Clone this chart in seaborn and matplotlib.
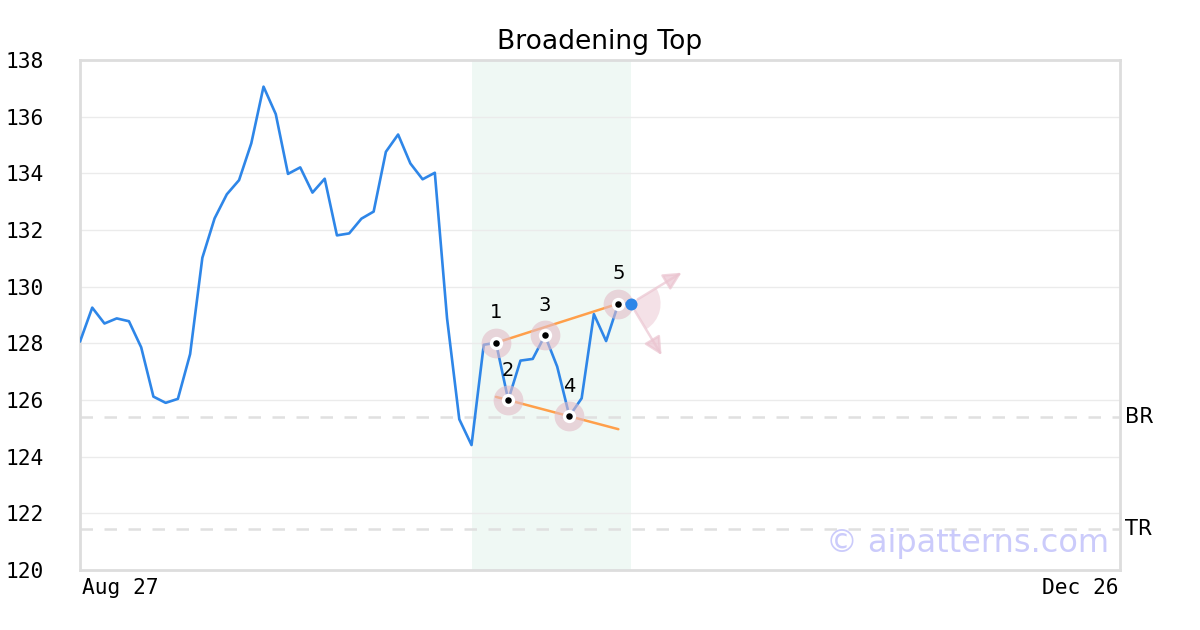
import matplotlib
matplotlib.use("Agg")
import matplotlib.pyplot as plt
import matplotlib.transforms as mtransforms
from matplotlib.patches import Wedge
import pandas as pd
import seaborn as sns

# ---------------------------------------------------------
# Data (x = trading-day index)
# ---------------------------------------------------------
price = [128.06, 129.26, 128.70, 128.88, 128.78, 127.86, 126.12, 125.90, 126.04, 127.62,
         131.02, 132.41, 133.26, 133.76, 135.06, 137.06, 136.09, 133.98, 134.21, 133.32,
         133.81, 131.81, 131.88, 132.40, 132.65, 134.76, 135.37, 134.35, 133.79, 134.02,
         128.88, 125.32, 124.41, 127.95, 128.02, 126.00, 127.39, 127.45, 128.28, 127.18,
         125.43, 126.06, 129.03, 128.08, 129.40, 129.40]
n_slots = 86
tick_pos = [0, 85]
tick_labels = ["Aug 27", "Dec 26"]

pivot_idx = [34, 35, 38, 40, 44]
pivot_price = [128.02, 126.00, 128.28, 125.43, 129.40]
pivot_labels = ["1", "2", "3", "4", "5"]

upper_idx = [34, 44]
upper_val = [128.02, 129.40]
lower_idx = [34, 44]
lower_val = [126.11, 124.97]

zone = [32, 45]
levels = {"BR": 125.40, "TR": 121.45}

df = pd.DataFrame({"idx": range(len(price)), "price": price})

# ---------------------------------------------------------
# Plot
# ---------------------------------------------------------
sns.set_theme(style="white")
plt.rcParams["font.family"] = ["DejaVu Sans"]
plt.rcParams["text.color"] = "black"
plt.rcParams["xtick.color"] = "black"
plt.rcParams["ytick.color"] = "black"

fig = plt.figure(figsize=(12, 6.3), dpi=100)
ax = fig.add_axes([80 / 1200, 60 / 630, 1040 / 1200, 510 / 630])

ax.axvspan(zone[0], zone[1], color="#eff8f4", zorder=0, lw=0)
ax.yaxis.grid(True, color="#ebebeb", lw=1, zorder=0.5)

for name, lvl in levels.items():
    ax.axhline(lvl, color="#e0e0e0", lw=1.8, dashes=(5, 4.6), zorder=1)
    ax.text(1.005, lvl, name, transform=ax.get_yaxis_transform(),
            va="center", ha="left", fontsize=15, color="black")

sns.lineplot(data=df, x="idx", y="price", ax=ax, color="#2e86e8", lw=1.9, zorder=3)

ax.plot(upper_idx, upper_val, color="#ff9f4a", lw=1.8, zorder=4)
ax.plot(lower_idx, lower_val, color="#ff9f4a", lw=1.8, zorder=4)

ax.scatter(pivot_idx, pivot_price, s=460, color="#e3bcc7", alpha=0.6, lw=0, zorder=5)
ax.scatter(pivot_idx, pivot_price, s=92, color="white", lw=0, zorder=6)
ax.scatter(pivot_idx, pivot_price, s=22, color="black", lw=0, zorder=7)
for i, p, lab in zip(pivot_idx, pivot_price, pivot_labels):
    ax.annotate(lab, (i, p), xytext=(0, 21.5), textcoords="offset points",
                ha="center", va="center", fontsize=14, color="black", zorder=8)

ax.set_xlim(0, n_slots - 1)
ax.set_ylim(120, 138)
ax.set_yticks(range(120, 139, 2))
ax.set_xticks(tick_pos)
ax.set_xticklabels(tick_labels)
xl = ax.get_xticklabels()
xl[0].set_ha("left")
xl[-1].set_ha("right")
ax.tick_params(axis="y", length=0, pad=26, labelsize=15.3, labelfontfamily="DejaVu Sans Mono")
ax.tick_params(axis="x", length=0, pad=6, labelsize=15.3, labelfontfamily="DejaVu Sans Mono")
for lab, shift in zip(xl, [2, -2]):
    lab.set_transform(lab.get_transform() +
                      mtransforms.ScaledTranslation(shift / 100, 0, fig.dpi_scale_trans))
ax.set_xlabel("")
ax.set_ylabel("")
for sp in ax.spines.values():
    sp.set_color("#dddddd")
    sp.set_linewidth(2)

# last point and projection arrows
lx, ly = len(price) - 1, price[-1]
ax.scatter([lx], [ly], s=75, color="#2e86e8", lw=0, zorder=9)
anchor = fig.dpi_scale_trans + mtransforms.ScaledTranslation(lx, ly, ax.transData)
ax.add_patch(Wedge((0, 0), 0.30, -58, 31, transform=anchor, color="#ebc5d0",
                   alpha=0.5, lw=0, zorder=2))
for dx, dy in [(0.51, 0.31), (0.31, -0.515)]:
    ax.annotate("", xy=(dx, dy), xycoords=anchor, xytext=(0, 0), textcoords=anchor,
                arrowprops=dict(arrowstyle="-|>,head_length=0.9,head_width=0.45",
                                color="#ebc4d0", alpha=0.7, lw=1.8, shrinkA=6, shrinkB=0),
                zorder=2)

ax.set_title("Broadening Top", fontsize=19.1, pad=8, color="black")
ax.text(0.99, 0.035, "\u00a9 aipatterns.com", transform=ax.transAxes,
        ha="right", va="baseline", fontsize=23, color="#cbcbfb", zorder=1)

fig.savefig("out.png", dpi=100)
plt.close(fig)
